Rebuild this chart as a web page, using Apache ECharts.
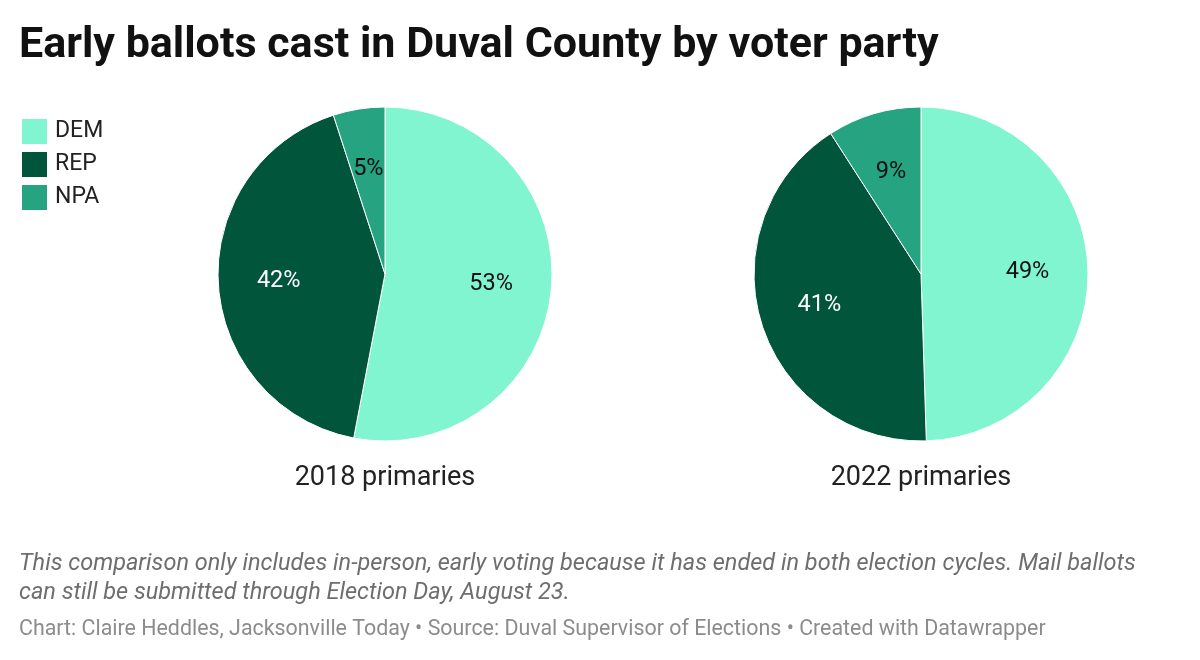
<!DOCTYPE html>
<html>
<head>
<meta charset="utf-8">
<script src="https://cdn.jsdelivr.net/npm/echarts@6/dist/echarts.min.js"></script>
<style>
  html, body { margin: 0; padding: 0; background: #fff; }
  #main { width: 1200px; height: 660px; }
</style>
</head>
<body>
<div id="main"></div>
<script>
// parties and shares (percent) of early ballots
const parties = ['DEM', 'REP', 'NPA'];
const share2018 = [53, 42, 5];
const share2022 = [49, 41, 9];
const pieTitles = ['2018 primaries', '2022 primaries'];

const partyColors = ['#80f5cf', '#00553a', '#26a380'];
const labelColors = ['#111', '#fff', '#111'];

const chart = echarts.init(document.getElementById('main'));
const FONT = 'Roboto, "Noto Sans", sans-serif';
const R = 167;

function slices(values, forLabels) {
    return parties.map((p, i) => ({
        name: p,
        value: values[i],
        itemStyle: forLabels ? { color: 'rgba(0,0,0,0)', borderWidth: 0 } : { color: partyColors[i] },
        label: { color: labelColors[i] }
    }));
}

// visible pie
function pie(center, values) {
    return {
        type: 'pie',
        center: center,
        radius: [0, R],
        startAngle: 90,
        clockwise: true,
        animation: false,
        itemStyle: { borderColor: '#fff', borderWidth: 1 },
        label: { show: false },
        labelLine: { show: false },
        emphasis: { disabled: true },
        data: slices(values, false)
    };
}

// transparent ring, only to put the % labels a bit further out
function pieLabels(center, values) {
    return {
        type: 'pie',
        center: center,
        radius: [40, R],
        startAngle: 90,
        clockwise: true,
        animation: false,
        silent: true,
        legendHoverLink: false,
        label: {
            show: true,
            position: 'inside',
            formatter: '{c}%',
            fontFamily: FONT,
            fontSize: 23.5
        },
        labelLine: { show: false },
        emphasis: { disabled: true },
        data: slices(values, true)
    };
}

const centers = [[385, 274], [921, 274]];

const option = {
    backgroundColor: '#fff',
    title: {
        text: 'Early ballots cast in Duval County by voter party',
        left: 14,
        top: 20,
        textStyle: { fontFamily: FONT, fontWeight: 'bold', fontSize: 43, color: '#111' }
    },
    legend: {
        orient: 'vertical',
        left: 20,
        top: 117,
        padding: 0,
        itemWidth: 27,
        itemHeight: 27,
        itemGap: 4,
        selectedMode: false,
        icon: 'rect',
        textStyle: { fontFamily: FONT, fontSize: 23, color: '#222', padding: [0, 0, 0, 2] },
        data: parties.map((p, i) => ({ name: p, itemStyle: { color: partyColors[i] } }))
    },
    series: [
        pie(centers[0], share2018),
        pie(centers[1], share2022),
        pieLabels(centers[0], share2018),
        pieLabels(centers[1], share2022)
    ],
    graphic: [
        {
            type: 'text', x: centers[0][0], y: 478,
            style: { text: pieTitles[0], fontFamily: FONT, fontSize: 27, fill: '#222', align: 'center', verticalAlign: 'middle' }
        },
        {
            type: 'text', x: centers[1][0], y: 478,
            style: { text: pieTitles[1], fontFamily: FONT, fontSize: 27, fill: '#222', align: 'center', verticalAlign: 'middle' }
        },
        {
            type: 'text', x: 19, y: 550,
            style: {
                text: 'This comparison only includes in-person, early voting because it has ended in both election cycles. Mail ballots\ncan still be submitted through Election Day, August 23.',
                fontFamily: FONT, fontStyle: 'italic', fontSize: 23.5, lineHeight: 29, fill: '#6e6e6e'
            }
        },
        {
            type: 'text', x: 19, y: 630,
            style: {
                text: 'Chart: Claire Heddles, Jacksonville Today \u2022 Source: Duval Supervisor of Elections \u2022 Created with Datawrapper',
                fontFamily: FONT, fontSize: 21.4, fill: '#8c8c8c', verticalAlign: 'middle'
            }
        }
    ]
};

chart.setOption(option);
</script>
</body>
</html>
